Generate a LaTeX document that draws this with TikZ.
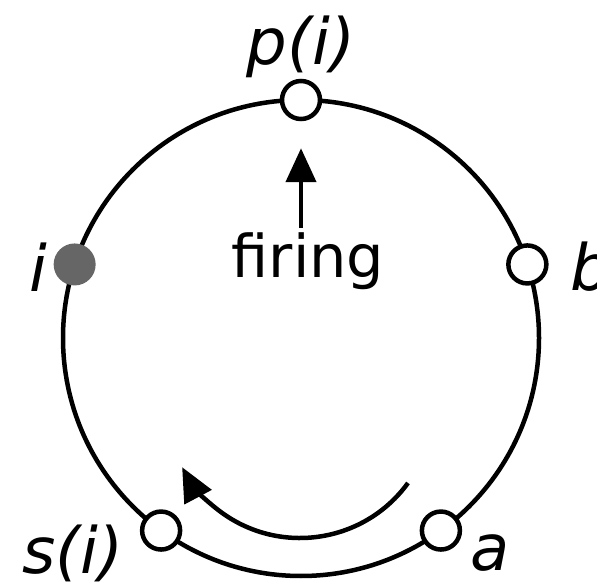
\documentclass[tikz,border=0pt]{standalone}
\usepackage{fontspec}
\setmainfont{DejaVu Sans}
\usetikzlibrary{arrows.meta,calc}

\tikzset{
  proc/.style={circle,draw,line width=4.5pt,fill=white,minimum size=38pt,inner sep=0pt},
  lbl/.style={font=\fontsize{64}{66}\selectfont\itshape,inner sep=0pt},
  bigtip/.style={-{Triangle[length=34pt,width=30pt]}}
}

\begin{document}
\begin{tikzpicture}[x=1pt,y=1pt,line width=4.5pt]
    \useasboundingbox (0,0) rectangle (597,581);

    % --- ring ---
    \coordinate (c) at (301,243);
    \draw (c) circle (238);

    % --- processes ---
    \node[proc] (pi) at ($(c)+(90:238)$) {};
    \node[proc] (b) at ($(c)+(18:238)$) {};
    \node[proc] (a) at ($(c)+(-54:238)$) {};
    \node[proc] (si) at ($(c)+(-126:238)$) {};
    \node[proc,draw=none,fill=black!60,minimum size=42pt] (i) at ($(c)+(162:238)$) {};

    % labels
    \node[lbl] at (301,534) {p(i)};
    \node[lbl,anchor=west] at (568,314) {b};
    \node[lbl] at (38,314) {i};
    \node[lbl] at (73,28) {s(i)};
    \node[lbl] at (490,28) {a};

    % firing
    \node[font=\fontsize{59}{61}\selectfont,inner sep=0pt] (firing) at (308,320) {firing};
    \draw[bigtip] (firing.north -| pi) ++(0,2) -- ([yshift=-27pt]pi.south);

    % direction of the ring
    \draw[bigtip] ($(300,176.5)+(-36:133.5)$) arc[start angle=-36,end angle=-152,radius=133.5];
\end{tikzpicture}
\end{document}
